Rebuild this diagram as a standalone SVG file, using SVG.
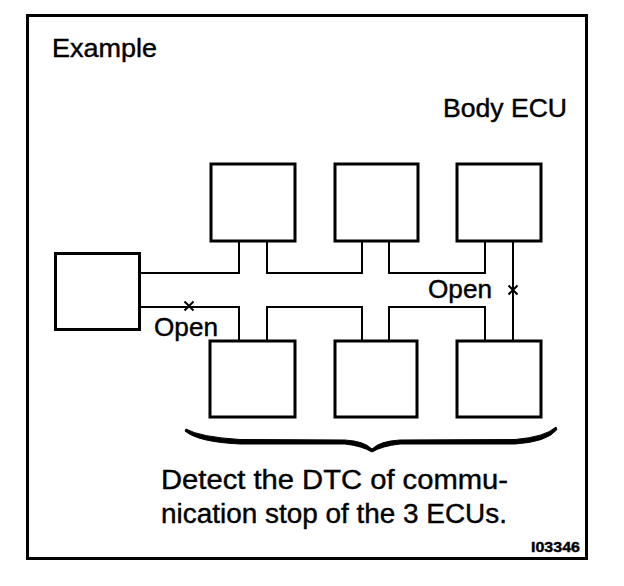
<svg xmlns="http://www.w3.org/2000/svg" width="624" height="586" viewBox="0 0 624 586">
<style>
.box{fill:#fff;stroke:#000;stroke-width:3}
.wire{fill:none;stroke:#000;stroke-width:2}
.t{font-family:"Liberation Sans",Arial,sans-serif;fill:#000;stroke:#000;stroke-width:0.4}
</style>
<rect x="0" y="0" width="624" height="586" fill="#fff"/>
<rect x="27.5" y="15.5" width="559" height="543" fill="none" stroke="#000" stroke-width="3"/>
<text class="t" x="52" y="57" font-size="25" textLength="105" lengthAdjust="spacingAndGlyphs">Example</text>
<text class="t" x="443" y="117" font-size="25" textLength="124" lengthAdjust="spacingAndGlyphs">Body ECU</text>
<g id="connectors">
<path class="wire" d="M140,273 H239 V241 M267,241 V273 H362 V241 M389,241 V273 H485 V241"/>
<path class="wire" d="M140,307 H239 V341 M267,341 V307 H362 V341 M389,341 V307 H485 V341"/>
<path class="wire" stroke-width="1.6" d="M513,241 V341"/>
<path class="wire" stroke-width="2.6" d="M184.5,301.5 L193.5,310.5 M193.5,301.5 L184.5,310.5"/>
<path class="wire" stroke-width="2.6" d="M508.5,285.5 L517.5,294.5 M517.5,285.5 L508.5,294.5"/>
</g>
<g id="ecu-left"><rect class="box" x="55.5" y="253.5" width="84" height="76"/></g>
<g id="ecu-top1"><rect class="box" x="211" y="164" width="84" height="77"/></g>
<g id="ecu-top2"><rect class="box" x="335" y="164" width="83" height="77"/></g>
<g id="body-ecu"><rect class="box" x="457" y="164" width="84" height="77"/></g>
<g id="ecu-bot1"><rect class="box" x="210" y="341" width="85" height="76"/></g>
<g id="ecu-bot2"><rect class="box" x="335" y="341" width="82" height="76"/></g>
<g id="ecu-bot3"><rect class="box" x="457" y="341" width="84" height="76"/></g>
<text class="t" x="154" y="336" font-size="25" textLength="64" lengthAdjust="spacingAndGlyphs">Open</text>
<text class="t" x="428" y="298" font-size="25" textLength="64" lengthAdjust="spacingAndGlyphs">Open</text>
<path d="M186,429 Q200,437 240,439.5 L345,440 Q364,441 372,449 Q380,441 400,440 L515,439.5 Q545,437 556,427 L557,429.5 Q547,442 515,444 L400,444 Q382,446 372,452 Q362,446 345,444 L240,444 Q198,442 185,431 Z" fill="#000" stroke="#000" stroke-width="1" stroke-linejoin="round"/>
<text class="t" x="161" y="489" font-size="27" textLength="347" lengthAdjust="spacingAndGlyphs">Detect the DTC of commu-</text>
<text class="t" x="161" y="523" font-size="27" textLength="346" lengthAdjust="spacingAndGlyphs">nication stop of the 3 ECUs.</text>
<text class="t" x="531" y="552" font-size="15" font-weight="bold" textLength="49" lengthAdjust="spacingAndGlyphs">I03346</text>
</svg>
